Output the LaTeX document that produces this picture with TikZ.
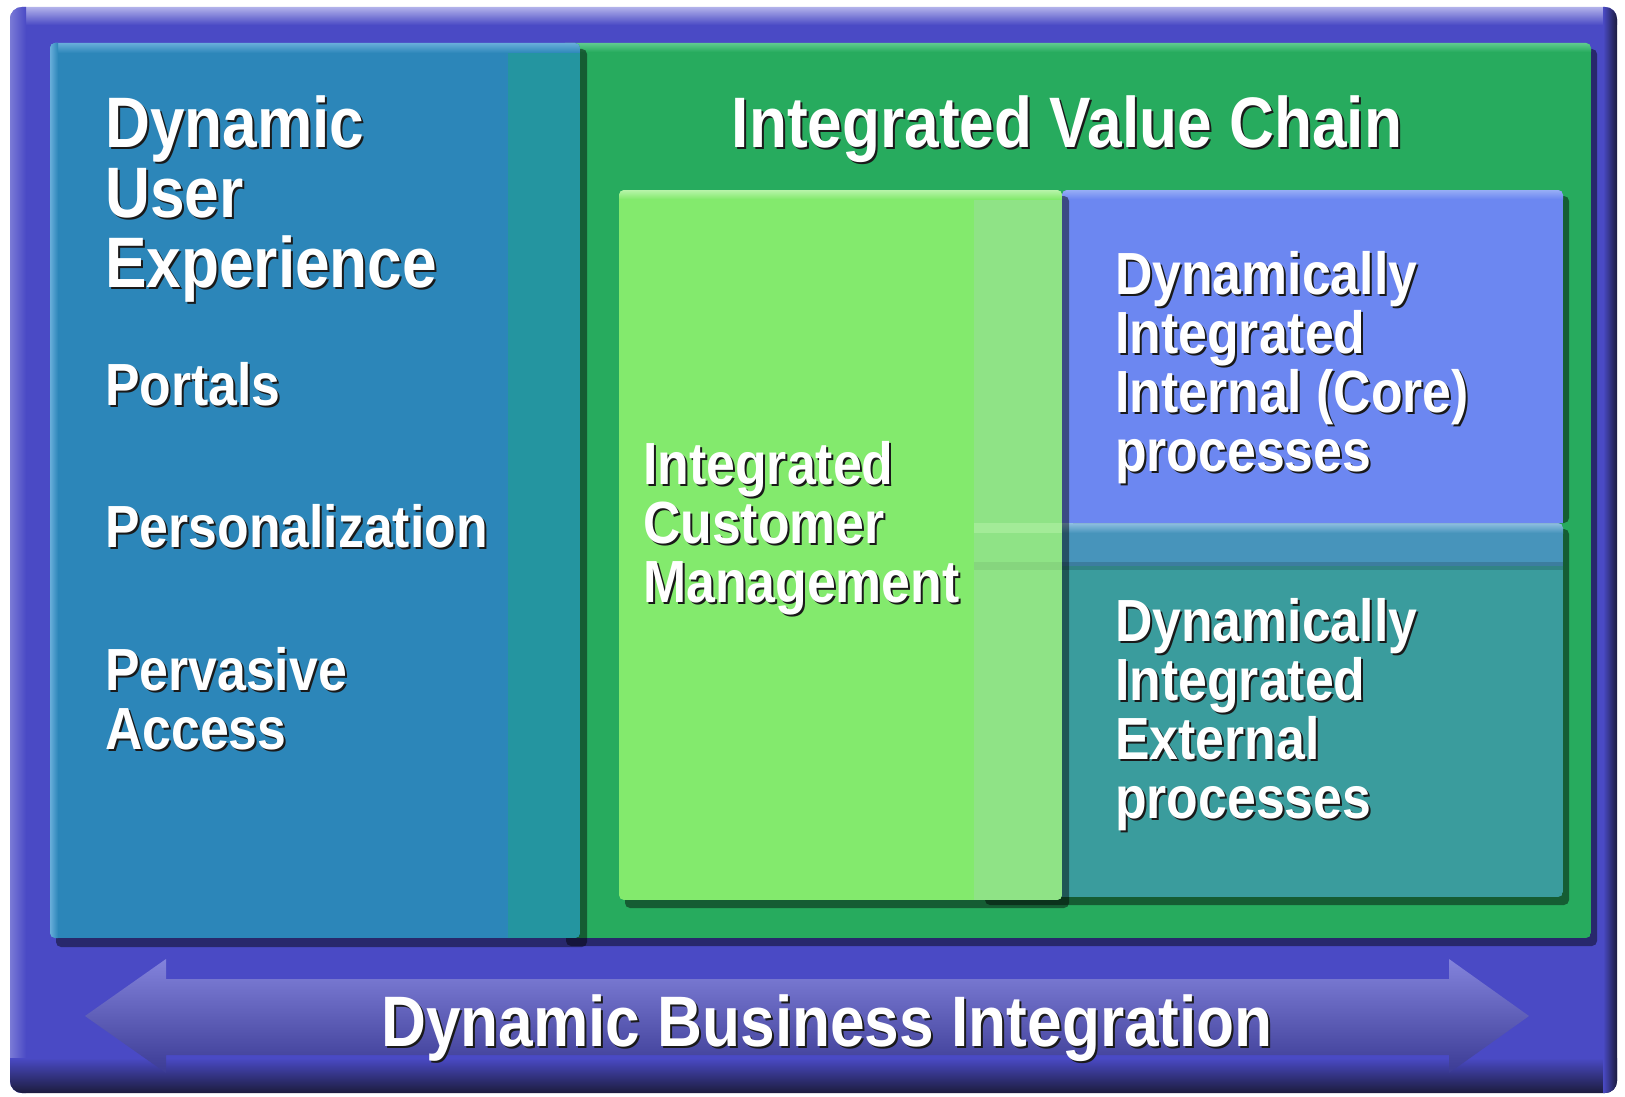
\documentclass[tikz,border=0pt]{standalone}
\usepackage{fontspec}
\newfontfamily\slidefont[FakeStretch=0.87]{Liberation Sans}
\definecolor{framebg}{HTML}{4A4AC5}
\definecolor{frametop}{HTML}{B2B2EA}
\definecolor{frameleft}{HTML}{7A7AD6}
\definecolor{framedark}{HTML}{1C1C3E}
\definecolor{uxblue}{HTML}{2C86B9}
\definecolor{uxstrip}{HTML}{2495A0}
\definecolor{uxlight}{HTML}{68AEDA}
\definecolor{chaingreen}{HTML}{27AB5E}
\definecolor{chainlight}{HTML}{5FCB8E}
\definecolor{custgreen}{HTML}{83EA6D}
\definecolor{custstrip}{HTML}{8FE386}
\definecolor{custlight}{HTML}{B8F4AA}
\definecolor{coreblue}{HTML}{6C87F1}
\definecolor{corelight}{HTML}{97ADF6}
\definecolor{extteal}{HTML}{3A9C9D}
\definecolor{extband}{HTML}{4794BB}
\definecolor{extlight}{HTML}{8FBFE2}
\definecolor{arrowtop}{HTML}{8383DC}
\definecolor{arrowbottom}{HTML}{3B3B94}
\definecolor{txtshadow}{HTML}{1A1A1A}
\tikzset{
  box/.style={rounded corners=5pt},
  shadowbox/.style={fill=black, opacity=.45, rounded corners=5pt},
  bigtext/.style={text=white, inner sep=0pt, align=left,
    font=\slidefont\bfseries\fontsize{71.5}{70}\selectfont},
  smalltext/.style={bigtext, font=\slidefont\bfseries\fontsize{59.5}{59}\selectfont}
}
\newcommand\shd[1]{\rlap{\kern2pt\raisebox{-2pt}{\color{txtshadow}#1}}#1}

\begin{document}
\begin{tikzpicture}[x=1pt, y=-1pt]
  \useasboundingbox[fill=white] (0,0) rectangle (1625,1097);

  % outer frame
  \begin{scope}
    \clip[rounded corners=12pt] (10,7) rectangle (1617,1093);
    \fill[framebg] (10,7) rectangle (1617,1093);
    \shade[top color=frametop, bottom color=framebg] (10,7) rectangle (1617,25);
    \shade[left color=frameleft, right color=framebg] (10,7) rectangle (26,1093);
    \shade[top color=framebg, bottom color=framedark] (10,1058) rectangle (1617,1093);
    \shade[left color=framebg, right color=framedark] (1603,7) rectangle (1617,1093);
  \end{scope}

  % integrated value chain
  \fill[shadowbox] (566,49) rectangle (1597,946);
  \begin{scope}
    \clip[box] (560,43) rectangle (1591,938);
    \fill[chaingreen] (560,43) rectangle (1591,938);
    \shade[top color=chainlight, bottom color=chaingreen] (560,43) rectangle (1591,52);
  \end{scope}

  % dynamic user experience
  \fill[shadowbox] (56,49) rectangle (587,947);
  \begin{scope}
    \clip[box] (50,43) rectangle (580,938);
    \fill[uxblue] (50,43) rectangle (580,938);
    \fill[uxstrip] (508,43) rectangle (580,938);
    \shade[top color=uxlight, bottom color=uxblue] (50,43) rectangle (580,53);
    \shade[left color=uxlight, right color=uxblue] (50,43) rectangle (58,938);
  \end{scope}

  % external processes
  \fill[shadowbox] (985,529) rectangle (1569,905);
  \begin{scope}
    \clip[box] (979,523) rectangle (1563,897);
    \fill[extteal] (979,523) rectangle (1563,897);
    \fill[extband] (979,523) rectangle (1563,566);
    \fill[black, opacity=.15] (979,562) rectangle (1563,570);
    \shade[top color=extlight, bottom color=extband] (979,523) rectangle (1563,533);
  \end{scope}

  % core processes
  \fill[shadowbox] (1068,196) rectangle (1569,523);
  \begin{scope}
    \clip[box] (1062,190) rectangle (1563,528);
    \fill[coreblue] (1062,190) rectangle (1563,523);
    \shade[top color=corelight, bottom color=coreblue] (1062,190) rectangle (1563,199);
  \end{scope}

  % customer management
  \fill[shadowbox] (625,196) rectangle (1069,908);
  \begin{scope}
    \clip[box] (619,190) rectangle (1062,900);
    \fill[custgreen] (619,190) rectangle (1062,900);
    \fill[custstrip] (974,190) rectangle (1062,900);
    \fill[custlight, opacity=.5] (974,523) rectangle (1062,533);
    \fill[black, opacity=.06] (974,562) rectangle (1062,570);
    \shade[top color=custlight, bottom color=custgreen] (619,190) rectangle (1062,199);
  \end{scope}

  % business integration arrow
  \shade[top color=arrowtop, bottom color=arrowbottom]
    (85,1016) -- (166,959) -- (166,979) -- (1449,979) -- (1449,959) -- (1529,1016)
    -- (1449,1073) -- (1449,1055) -- (166,1055) -- (166,1073) -- cycle;

  % texts
  \node[bigtext, anchor=north west] (ux) at (105,95)
    {\shd{Dynamic}\\\shd{User}\\\shd{Experience}};
  \node[smalltext, anchor=north west] (portals) at (105,362) {\shd{Portals}};
  \node[smalltext, anchor=north west] (perso) at (105,504) {\shd{Personalization}};
  \node[smalltext, anchor=north west] (pervasive) at (105,647)
    {\shd{Pervasive}\\\shd{Access}};
  \node[bigtext, anchor=north] (ivc) at (1067,95) {\shd{Integrated Value Chain}};
  \node[smalltext, anchor=north west] (icm) at (643,441)
    {\shd{Integrated}\\\shd{Customer}\\\shd{Management}};
  \node[smalltext, anchor=north west] (core) at (1115,251)
    {\shd{Dynamically}\\\shd{Integrated}\\\shd{Internal (Core)}\\\shd{processes}};
  \node[smalltext, anchor=north west] (external) at (1115,598)
    {\shd{Dynamically}\\\shd{Integrated}\\\shd{External}\\\shd{processes}};
  \node[bigtext, anchor=north] (dbi) at (827,994) {\shd{Dynamic Business Integration}};
\end{tikzpicture}
\end{document}
